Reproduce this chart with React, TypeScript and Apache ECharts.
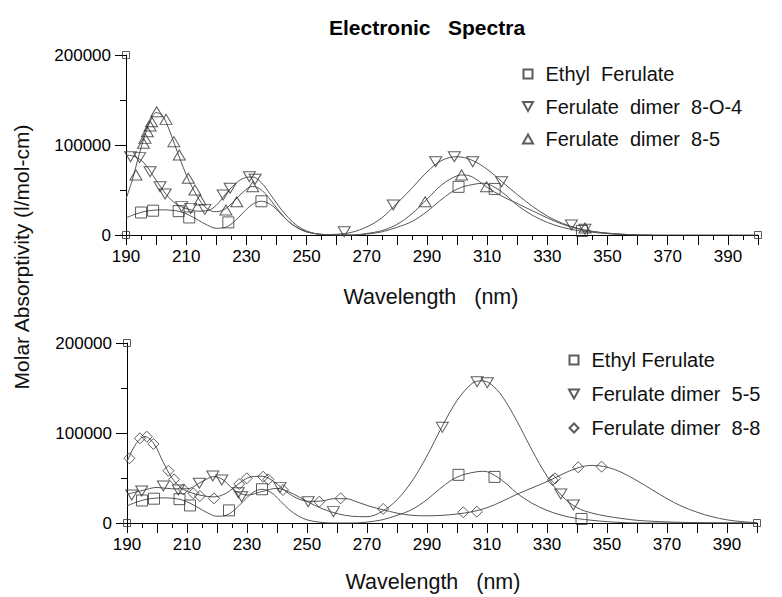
import React, { useEffect, useRef } from "react";
import * as echarts from "echarts";

const FONT = "'Liberation Sans', Arial, Helvetica, sans-serif";

// ---------- axis ticks ----------
const xTickLabels = [190, 210, 230, 250, 270, 290, 310, 330, 350, 370, 390];
const yTickLabels = [0, 100000, 200000];

// ---------- legend names ----------
const topNames = ["Ethyl  Ferulate", "Ferulate  dimer  8-O-4", "Ferulate  dimer  8-5"];
const bottomNames = ["Ethyl Ferulate", "Ferulate dimer  5-5", "Ferulate dimer  8-8"];

// ---------- fitted curves (wavelength nm, molar absorptivity) ----------
const ethylCurve = [
  [190, 19000], [193, 23000], [196, 26000], [199, 27500], [202, 28000], [205, 27500],
  [208, 26000], [211, 22000], [214, 16500], [217, 11000], [220, 7500], [223, 8500],
  [226, 15000], [229, 25000], [232, 34000], [235, 37500], [238, 34000], [241, 25000],
  [244, 15000], [247, 8000], [250, 3500], [254, 1000], [258, 0], [266, 0], [270, 1000],
  [275, 3500], [280, 8500], [285, 15000], [290, 26000], [295, 40000], [300, 51000],
  [305, 56000], [309, 57500], [313, 52000], [317, 42000], [320, 33000], [325, 22000],
  [330, 14000], [335, 8500], [340, 5000], [345, 3000], [350, 1500], [355, 500],
  [360, 0], [380, 0], [400, 0],
];
const dimer8O4Curve = [
  [190, 89000], [193, 87000], [196, 80000], [199, 66000], [202, 51000], [205, 39000],
  [208, 32000], [211, 28500], [214, 26500], [217, 27000], [220, 33000], [223, 45000],
  [226, 56000], [229, 63000], [232, 64500], [235, 58000], [238, 45000], [241, 31000],
  [244, 19000], [247, 10000], [250, 4500], [253, 1500], [256, 500], [260, 800],
  [265, 3000], [270, 9000], [275, 19000], [280, 35000], [285, 52000], [290, 70000],
  [295, 83000], [300, 87000], [305, 83000], [310, 73000], [315, 59000], [320, 45000],
  [325, 32000], [330, 21000], [335, 13000], [340, 7500], [345, 4000], [350, 2000],
  [355, 800], [360, 200], [365, 0],
];
const dimer85Curve = [
  [190, 40000], [192, 60000], [194, 85000], [196, 108000], [198, 126000], [200, 136000],
  [202, 133000], [204, 120000], [206, 102000], [208, 84000], [210, 67000], [212, 53000],
  [214, 41000], [216, 32000], [218, 27000], [220, 26000], [223, 29000], [226, 38000],
  [229, 48000], [232, 54000], [235, 50000], [238, 39000], [241, 26000], [244, 15000],
  [247, 8000], [250, 3500], [254, 1000], [258, 0], [265, 0], [270, 1700], [275, 4900],
  [280, 11700], [285, 23600], [290, 39700], [295, 56000], [300, 65800], [302, 66700],
  [305, 64600], [310, 53000], [315, 43000], [320, 35000], [325, 27000], [330, 19000],
  [335, 12000], [340, 7000], [345, 4000], [350, 2000], [355, 800], [360, 0],
];
const dimer55Curve = [
  [190, 32000], [195, 36000], [200, 39500], [205, 38000], [210, 38000], [215, 46000],
  [219, 51500], [222, 48000], [226, 36000], [230, 31000], [235, 35000], [240, 38500],
  [245, 33000], [250, 24000], [255, 16000], [260, 10500], [265, 7500], [270, 7000],
  [275, 12700], [280, 25800], [285, 46500], [290, 74600], [295, 107000], [300, 136000],
  [305, 155000], [308, 158000], [311, 155000], [315, 141000], [320, 113000], [325, 81000],
  [330, 52000], [335, 30000], [340, 17000], [345, 11000], [350, 7500], [355, 5000],
  [360, 3000], [370, 1200], [380, 400], [390, 100], [400, 0],
];
const dimer88Curve = [
  [190, 68000], [193, 88000], [196, 96000], [199, 88000], [202, 68000], [205, 50000],
  [208, 39000], [211, 34000], [215, 30500], [219, 29000], [223, 33000], [227, 43000],
  [231, 51000], [235, 52000], [239, 46000], [243, 35000], [247, 27000], [251, 24000],
  [255, 24500], [259, 27000], [263, 27000], [267, 23000], [271, 18500], [275, 15000],
  [280, 11000], [285, 8500], [290, 8000], [295, 8500], [300, 10000], [305, 12500],
  [310, 17000], [315, 24000], [320, 32000], [325, 39000], [330, 46000], [335, 54000],
  [340, 61000], [345, 64000], [350, 62000], [355, 56000], [360, 47000], [365, 37000],
  [370, 27000], [375, 18500], [380, 12000], [385, 7000], [390, 3500], [395, 1500],
  [400, 300],
];

// ---------- measured points ----------
const ethylPoints = [
  [195, 25000], [199, 27000], [207.5, 26500], [211, 19500], [224, 14000], [235, 37500],
  [300.5, 53500], [312.5, 51200], [341.5, 4500],
];
const dimer8O4Points = [
  [191.5, 87000], [194.5, 86000], [198, 70300], [201.3, 53700], [203, 45600], [208.5, 31500],
  [211.5, 29600], [216.2, 28500], [222.3, 44400], [224.6, 51900], [231, 64800], [232.9, 61900],
  [262.5, 3700], [278.8, 33300], [292.9, 81400], [299.1, 87000], [305.2, 81400], [314.8, 59200],
  [338, 11100], [342.5, 6300],
];
const dimer85Points = [
  [193.3, 66700], [195.8, 101900], [196.3, 107400], [197.1, 114800], [198, 121100],
  [198.5, 125900], [200.2, 137000], [203.3, 128500], [205.9, 103700], [207.7, 88900],
  [210.7, 63000], [212.9, 50000], [214.6, 38900], [223.2, 27800], [226.8, 37000],
  [232.1, 53700], [289.4, 37000], [301.5, 66700], [309.8, 53700], [342.5, 7800],
];
const dimer55Points = [
  [191.6, 31100], [194.9, 35600], [202.1, 41100], [207.1, 36700], [214.1, 44100],
  [218.6, 52200], [221.6, 47800], [227.1, 33700], [228.2, 29200], [241, 39600],
  [250.4, 23700], [258.8, 12600], [295.1, 106300], [306.7, 157000], [310.1, 155900],
  [334.6, 32200], [338.8, 20000],
];
const dimer88Points = [
  [190.8, 71900], [194.3, 94100], [196.6, 95900], [198.8, 87800], [203.8, 58100],
  [205.7, 48500], [208.8, 37400], [212.1, 33000], [214.3, 30000], [219, 27400],
  [227.4, 43300], [229.9, 49600], [235.4, 51400], [237.1, 48500], [242, 36700],
  [254.1, 23700], [261.2, 27400], [275.4, 15600], [302.1, 11900], [306.6, 12600],
  [331.9, 47800], [332.7, 49600], [340.4, 61900], [348.2, 62600],
];
const rangeAnchors = [[190, 200000], [190, 0], [400, 0]];

const SQUARE = "path://M0,0 L10,0 L10,10 L0,10 Z";
const DOWN_TRI = "path://M0,0 L10,0 L5,9 Z";
const UP_TRI = "path://M5,0 L10,9 L0,9 Z";
const DIAMOND = "path://M5,0 L10,5 L5,10 L0,5 Z";

const markerStyle = { color: "rgba(255,255,255,0)", borderColor: "#333", borderWidth: 1 };

function xAxisFor(gridIndex: number) {
  return {
    type: "value",
    gridIndex,
    min: 190,
    max: 400,
    interval: 10,
    axisLine: { show: true, onZero: false, lineStyle: { color: "#000", width: 1 } },
    axisTick: { show: true, length: 10, lineStyle: { color: "#000" } },
    minorTick: { show: true, splitNumber: 2, length: 5, lineStyle: { color: "#000" } },
    splitLine: { show: false },
    minorSplitLine: { show: false },
    axisLabel: {
      margin: 13,
      fontSize: 17,
      fontFamily: FONT,
      color: "#000",
      formatter: (v: number) => (xTickLabels.includes(Math.round(v)) ? String(Math.round(v)) : ""),
    },
  };
}
function yAxisFor(gridIndex: number) {
  return {
    type: "value",
    gridIndex,
    min: 0,
    max: 200000,
    interval: 100000,
    axisLine: { show: true, onZero: false, lineStyle: { color: "#000", width: 1 } },
    axisTick: { show: true, length: 11, lineStyle: { color: "#000" } },
    minorTick: { show: true, splitNumber: 2, length: 6, lineStyle: { color: "#000" } },
    splitLine: { show: false },
    minorSplitLine: { show: false },
    axisLabel: {
      margin: 15,
      fontSize: 17,
      fontFamily: FONT,
      color: "#000",
      formatter: (v: number) => (yTickLabels.includes(Math.round(v)) ? String(Math.round(v)) : ""),
    },
  };
}

function curve(data: number[][], idx: number, name: string) {
  return {
    type: "line",
    name,
    xAxisIndex: idx,
    yAxisIndex: idx,
    data,
    symbol: "none",
    showSymbol: false,
    smooth: 0.35,
    lineStyle: { color: "#555", width: 1 },
    silent: true,
    z: 2,
  };
}
function points(data: number[][], idx: number, name: string, symbol: string, size: number | number[]) {
  return {
    type: "scatter",
    name,
    xAxisIndex: idx,
    yAxisIndex: idx,
    data,
    symbol,
    symbolSize: size,
    itemStyle: markerStyle,
    clip: false,
    z: 3,
  };
}

const legendCommon = {
  orient: "vertical",
  itemWidth: 25,
  itemHeight: 9,
  selectedMode: false,
  textStyle: { fontSize: 20, fontFamily: FONT, color: "#111" },
};

const option = {
  animation: false,
  backgroundColor: "#fff",
  title: {
    text: "Electronic   Spectra",
    left: 324,
    top: 12,
    textStyle: { fontSize: 21, fontWeight: "bold", fontFamily: FONT, color: "#000" },
  },
  grid: [
    { left: 126, right: 24, top: 55, height: 180 },
    { left: 127, right: 25, top: 343, height: 180 },
  ],
  xAxis: [xAxisFor(0), xAxisFor(1)],
  yAxis: [yAxisFor(0), yAxisFor(1)],
  legend: [
    {
      ...legendCommon,
      left: 517,
      top: 59,
      itemGap: 12.5,
      data: [
        { name: topNames[0], icon: SQUARE },
        { name: topNames[1], icon: DOWN_TRI },
        { name: topNames[2], icon: UP_TRI },
      ],
    },
    {
      ...legendCommon,
      left: 563,
      top: 345,
      itemGap: 14,
      data: [
        { name: bottomNames[0], icon: SQUARE },
        { name: bottomNames[1], icon: DOWN_TRI },
        { name: bottomNames[2], icon: DIAMOND },
      ],
    },
  ],
  graphic: [
    {
      type: "text",
      x: 21,
      y: 257,
      rotation: Math.PI / 2,
      style: {
        text: "Molar Absorptivity (l/mol-cm)",
        fontSize: 21,
        fontFamily: FONT,
        fill: "#111",
        align: "center",
        verticalAlign: "middle",
      },
    },
    {
      type: "text",
      x: 431,
      y: 297,
      style: { text: "Wavelength   (nm)", fontSize: 21.5, fontFamily: FONT, fill: "#111", align: "center", verticalAlign: "middle" },
    },
    {
      type: "text",
      x: 433,
      y: 582,
      style: { text: "Wavelength   (nm)", fontSize: 21.5, fontFamily: FONT, fill: "#111", align: "center", verticalAlign: "middle" },
    },
  ],
  series: [
    curve(ethylCurve, 0, "ethyl fit top"),
    curve(dimer8O4Curve, 0, "8-O-4 fit"),
    curve(dimer85Curve, 0, "8-5 fit"),
    points(ethylPoints, 0, topNames[0], SQUARE, 11),
    points(dimer8O4Points, 0, topNames[1], DOWN_TRI, [12, 10]),
    points(dimer85Points, 0, topNames[2], UP_TRI, [12, 10]),
    points(rangeAnchors, 0, "range top", SQUARE, 7),

    curve(ethylCurve, 1, "ethyl fit bottom"),
    curve(dimer55Curve, 1, "5-5 fit"),
    curve(dimer88Curve, 1, "8-8 fit"),
    points(ethylPoints, 1, bottomNames[0], SQUARE, 11),
    points(dimer55Points, 1, bottomNames[1], DOWN_TRI, [12, 10]),
    points(dimer88Points, 1, bottomNames[2], DIAMOND, 11),
    points(rangeAnchors, 1, "range bottom", SQUARE, 7),
  ],
};

export default function App() {
  const ref = useRef<HTMLDivElement>(null);
  useEffect(() => {
    const chart = echarts.init(ref.current!, null, { renderer: "svg" });
    chart.setOption(option as any);
    return () => chart.dispose();
  }, []);
  return (
    <div
      ref={ref}
      style={{ position: "fixed", left: 0, top: 0, width: 782, height: 597, background: "#fff" }}
    />
  );
}
